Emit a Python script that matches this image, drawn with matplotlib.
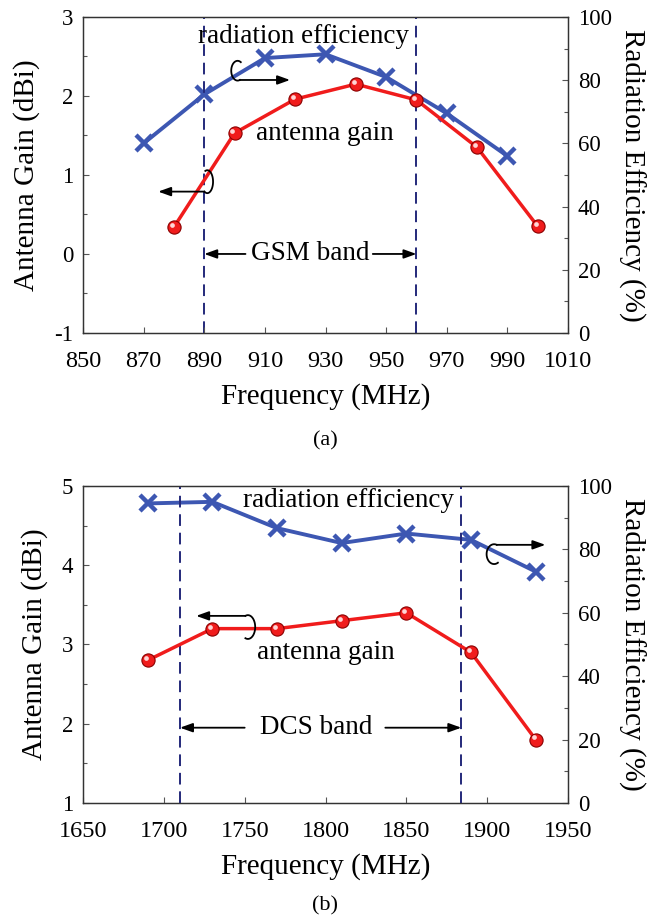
import numpy as np
import matplotlib
matplotlib.use("Agg")
import matplotlib.pyplot as plt
from matplotlib.ticker import MultipleLocator
from matplotlib.transforms import offset_copy

plt.rcParams['font.family'] = ['Liberation Serif', 'DejaVu Serif']
plt.rcParams['axes.unicode_minus'] = False

# ---- data ----
# (a) GSM band
gsm_eff_freq = [870, 890, 910, 930, 950, 970, 990]
gsm_eff = [60, 75.5, 87, 88.2, 81, 69.5, 56]
gsm_gain_freq = [880, 900, 920, 940, 960, 980, 1000]
gsm_gain = [0.34, 1.53, 1.96, 2.15, 1.95, 1.35, 0.35]
gsm_band = [890, 960]
gsm_xticks = list(range(850, 1011, 20))

# (b) DCS band
dcs_freq = [1690, 1730, 1770, 1810, 1850, 1890, 1930]
dcs_eff = [94.5, 95, 86.7, 82, 85, 83, 73]
dcs_gain = [2.8, 3.2, 3.2, 3.3, 3.4, 2.9, 1.8]
dcs_band = [1710, 1884]
dcs_xticks = list(range(1650, 1951, 50))

RED = '#f01c1c'
BLUE = '#3d57b2'
NAVY = '#24297a'
ARROW = dict(arrowstyle='-|>,head_length=0.5,head_width=0.18', color='k',
             lw=1.3, mutation_scale=15, shrinkA=0, shrinkB=0)


def panel(ax, gf, g, ef, e, band, xticks, ylim):
    ax.set_xlim(xticks[0], xticks[-1])
    ax.set_ylim(*ylim)
    ax.set_xticks(xticks)
    ax.yaxis.set_major_locator(MultipleLocator(1))
    ax.yaxis.set_minor_locator(MultipleLocator(0.5))
    for b in band:
        ax.axvline(b, color=NAVY, lw=1.4, ls=(0, (6, 3.5)), zorder=1)

    axr = ax.twinx()
    axr.set_ylim(0, 100)
    axr.yaxis.set_major_locator(MultipleLocator(20))
    axr.yaxis.set_minor_locator(MultipleLocator(10))
    axr.plot(ef, e, color=BLUE, lw=2.8, marker='x', ms=11, mew=3.2, zorder=3)

    # gain curve drawn above the efficiency curve
    ax.set_zorder(axr.get_zorder() + 1)
    ax.patch.set_visible(False)
    ax.plot(gf, g, color=RED, lw=2.5, marker='o', ms=9.5, mfc=RED,
            mec='#8a0000', mew=0.8, zorder=3)
    hl = offset_copy(ax.transData, fig=ax.figure, x=-1.5, y=1.5, units='points')
    ax.plot(gf, g, ls='none', marker='o', ms=3.4, mfc='#ffd6d6', mec='none',
            transform=hl, zorder=4)

    ax.set_xlabel('Frequency (MHz)', fontsize=21, labelpad=8)
    ax.set_ylabel('Antenna Gain (dBi)', fontsize=21, labelpad=10)
    axr.set_ylabel('Radiation Efficiency (%)', fontsize=21, rotation=270,
                   labelpad=24)
    for a in (ax, axr):
        a.tick_params(which='both', direction='in', color='#555555', width=0.8)
        a.tick_params(which='major', length=4.5, pad=7)
        a.tick_params(which='minor', length=3)
        a.tick_params(axis='y', labelsize=16.5)
        for s in a.spines.values():
            s.set_color('#333333')
            s.set_linewidth(0.9)
    ax.tick_params(axis='x', labelsize=17.5, pad=13)
    return axr


def curl(ax, cx, cy, w, h, t1, t2, x_end):
    # small loop around the curve and an arrow pointing to its axis
    t = np.radians(np.linspace(t1, t2, 60))
    ax.plot(cx + w / 2 * np.cos(t), cy + h / 2 * np.sin(t), color='k',
            lw=1.3, zorder=5)
    x0 = cx + w / 2 * np.cos(t[-1])
    y0 = cy + h / 2 * np.sin(t[-1])
    ax.annotate('', xy=(x_end, y0), xytext=(x0, y0), arrowprops=ARROW,
                zorder=5)


def band_label(ax, text, x, y, left_from, right_from, band):
    ax.text(x, y, text, ha='center', va='center', fontsize=19.5)
    ax.annotate('', xy=(band[0], y), xytext=(left_from, y), arrowprops=ARROW)
    ax.annotate('', xy=(band[1], y), xytext=(right_from, y), arrowprops=ARROW)


fig = plt.figure(figsize=(6.47, 9.18), dpi=100)

# ---- (a) ----
ax1 = fig.add_axes([0.1283, 0.6373, 0.7496, 0.3442])
panel(ax1, gsm_gain_freq, gsm_gain, gsm_eff_freq, gsm_eff, gsm_band,
      gsm_xticks, (-1, 3))
ax1.text(922.9, 2.75, 'radiation efficiency', ha='center', va='center', fontsize=19.5)
ax1.text(907.1, 1.53, 'antenna gain', ha='left', va='center', fontsize=19.5)
curl(ax1, 901, 2.32, 4.2, 0.25, 60, 290, 918.3)
curl(ax1, 891, 0.915, 3.8, 0.29, 110, -120, 874.8)
band_label(ax1, 'GSM band', 925, 0.0, 903.6, 945.6, gsm_band)
fig.text(0.503, 1 - 441 / 918, '(a)', ha='center', va='center', fontsize=16)

# ---- (b) ----
ax2 = fig.add_axes([0.1283, 0.1253, 0.7496, 0.3453])
panel(ax2, dcs_freq, dcs_gain, dcs_freq, dcs_eff, dcs_band, dcs_xticks, (1, 5))
ax2.text(1814, 4.82, 'radiation efficiency', ha='center', va='center', fontsize=19.5)
ax2.text(1800, 2.9, 'antenna gain', ha='center', va='center', fontsize=19.5)
curl(ax2, 1904.3, 4.14, 9.3, 0.25, 300, 70, 1936)
curl(ax2, 1752, 3.22, 9.0, 0.30, -110, 110, 1720)
band_label(ax2, 'DCS band', 1794, 1.95, 1750, 1837, dcs_band)
fig.text(0.503, 1 - 906 / 918, '(b)', ha='center', va='center', fontsize=16)

fig.savefig('out.png', dpi=100)
